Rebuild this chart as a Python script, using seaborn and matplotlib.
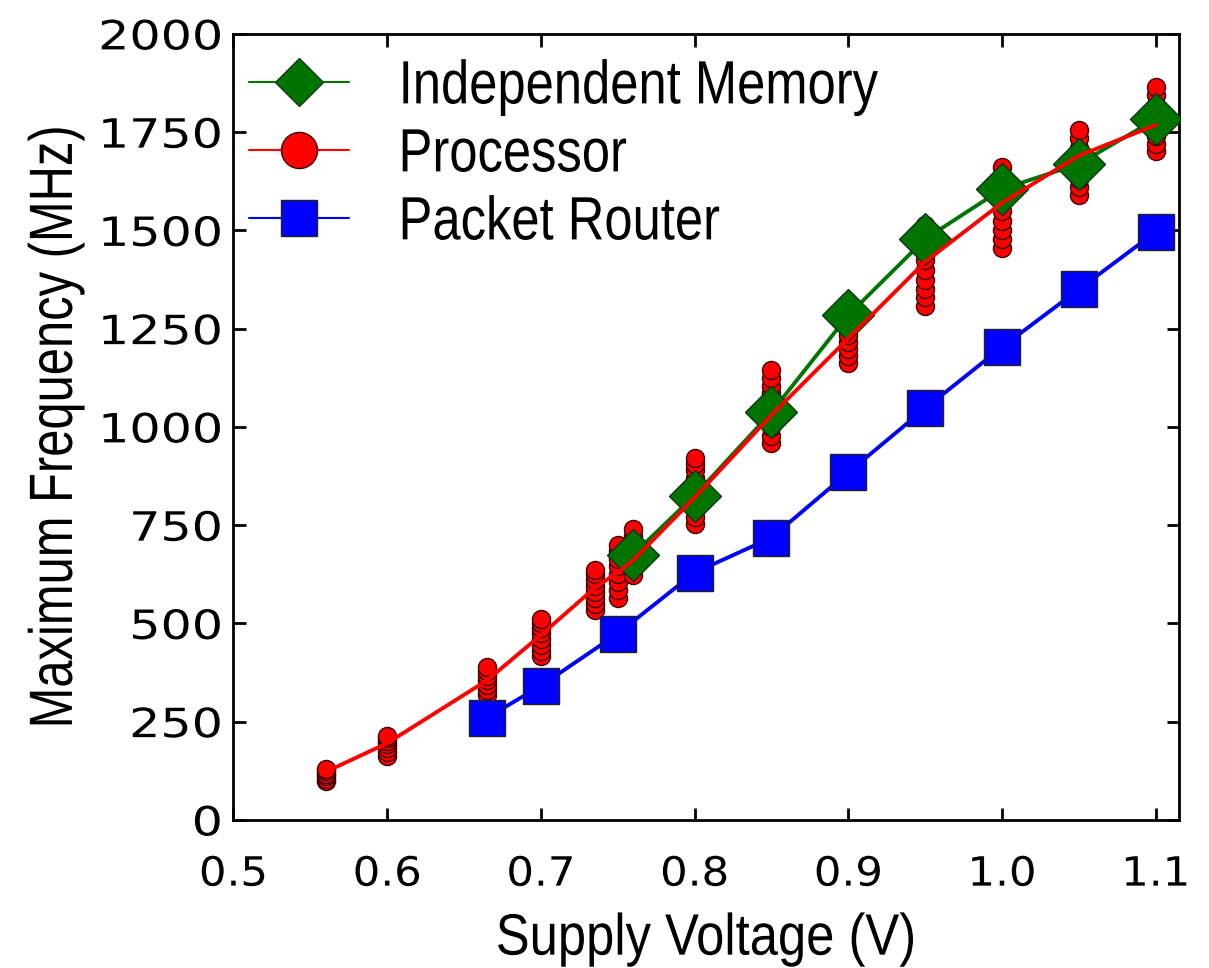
# Max frequency vs supply voltage
import pandas as pd
import numpy as np
import matplotlib.pyplot as plt
import seaborn as sns
from matplotlib.lines import Line2D
from matplotlib.patheffects import AbstractPathEffect
from matplotlib.transforms import Affine2D

# Independent memory (green diamonds)
mem_v = [0.76, 0.8, 0.85, 0.9, 0.95, 1.0, 1.05, 1.1]
mem_f = [675, 825, 1037, 1284, 1478, 1605, 1669, 1783]

# Packet router (blue squares)
router_v = [0.665, 0.7, 0.75, 0.8, 0.85, 0.9, 0.95, 1.0, 1.05, 1.1]
router_f = [260, 341, 474, 629, 718, 884, 1047, 1203, 1350, 1496]

# Processor fit line (red)
proc_v = [0.56, 0.6, 0.665, 0.7, 0.735, 0.75, 0.76, 0.8, 0.85, 0.9, 0.95, 1.0, 1.05, 1.1]
proc_f = [122, 195, 355, 470, 590, 630, 660, 820, 1030, 1225, 1420, 1570, 1690, 1768]

# Processor measured chips (red circles), one list per voltage
proc_chips = {
    0.56: [98, 105, 112, 118, 124, 130],
    0.6: [162, 172, 182, 192, 200, 208, 214],
    0.665: [318, 330, 342, 355, 366, 378, 390],
    0.7: [416, 430, 445, 460, 475, 488, 500, 510],
    0.735: [535, 550, 565, 580, 595, 610, 625, 637],
    0.75: [565, 585, 605, 625, 645, 665, 685, 700],
    0.76: [624, 640, 655, 670, 690, 705, 722, 739],
    0.8: [752, 770, 790, 810, 830, 850, 870, 890, 905, 922],
    0.85: [958, 978, 1000, 1020, 1040, 1062, 1085, 1105, 1125, 1146],
    0.9: [1162, 1180, 1198, 1215, 1235, 1255, 1275, 1295, 1317],
    0.95: [1307, 1330, 1352, 1375, 1400, 1425, 1450, 1475, 1495, 1513],
    1.0: [1455, 1478, 1500, 1525, 1550, 1575, 1600, 1622, 1642, 1661],
    1.05: [1590, 1610, 1630, 1650, 1670, 1690, 1710, 1735, 1755],
    1.1: [1702, 1720, 1740, 1760, 1780, 1800, 1820, 1845, 1865],
}

x_ticks = [0.5, 0.6, 0.7, 0.8, 0.9, 1.0, 1.1]
y_ticks = [0, 250, 500, 750, 1000, 1250, 1500, 1750, 2000]


class Stretch(AbstractPathEffect):
    '''squeeze / widen text glyphs horizontally (text stays a Text artist)'''
    def __init__(self, sx, anchor='center'):
        super().__init__()
        self.sx = sx
        self.anchor = anchor

    def draw_path(self, renderer, gc, tpath, affine, rgbFace=None):
        ext = tpath.get_extents()
        cx = {'left': ext.x0, 'center': (ext.x0 + ext.x1) / 2, 'right': ext.x1}[self.anchor]
        aff = Affine2D().translate(-cx, 0).scale(self.sx, 1).translate(cx, 0) + affine
        renderer.draw_path(gc, tpath, aff, rgbFace)


sns.set_style('ticks')
plt.rcParams.update({'text.color': 'black', 'axes.labelcolor': 'black',
                     'xtick.color': 'black', 'ytick.color': 'black',
                     'axes.edgecolor': 'black'})
label_font = ['Liberation Sans', 'DejaVu Sans']

chips = pd.DataFrame([(v, f) for v, fs in proc_chips.items() for f in fs],
                     columns=['voltage', 'freq'])
mem = pd.DataFrame({'voltage': mem_v, 'freq': mem_f})
router = pd.DataFrame({'voltage': router_v, 'freq': router_f})
proc = pd.DataFrame({'voltage': proc_v, 'freq': proc_f})

fig = plt.figure(figsize=(12.09, 9.68), dpi=100)
ax = fig.add_axes([0.193, 0.153, 0.782, 0.812])

sns.scatterplot(data=chips, x='voltage', y='freq', ax=ax, marker='o', s=13**2,
                color='#ff0000', edgecolor='#3a0000', linewidth=1, zorder=2, legend=False)
sns.lineplot(data=router, x='voltage', y='freq', ax=ax, color='#0000ff', lw=2.8,
             marker='s', markersize=26, markerfacecolor='#0000ff',
             markeredgecolor='#222222', markeredgewidth=1, zorder=3, legend=False)
sns.lineplot(data=mem, x='voltage', y='freq', ax=ax, color='#007400', lw=2.8,
             marker='D', markersize=26, markerfacecolor='#007400',
             markeredgecolor='#113311', markeredgewidth=1, zorder=4, legend=False)
sns.lineplot(data=proc, x='voltage', y='freq', ax=ax, color='#ff0000', lw=2.8,
             zorder=5, legend=False)

ax.set_xlim(0.5, 1.115)
ax.set_ylim(0, 2000)
ax.set_xticks(x_ticks)
ax.set_xticklabels([f'{t:.1f}' for t in x_ticks])
ax.set_yticks(y_ticks)
ax.set_yticklabels([str(t) for t in y_ticks])
ax.tick_params(direction='in', top=True, right=True, length=9, width=2,
               labelsize=29, colors='black')
ax.tick_params(axis='x', pad=25)
ax.tick_params(axis='y', pad=8)
for sp in ax.spines.values():
    sp.set_linewidth(2)
    sp.set_color('black')

ax.set_xlabel('Supply Voltage (V)', fontsize=42, family=label_font)
ax.set_ylabel('Maximum Frequency (MHz)', fontsize=44, family=label_font)
ax.xaxis.set_label_coords(0.5, -0.118)
ax.yaxis.set_label_coords(-0.157, 0.5)

handles = [
    Line2D([], [], color='#007400', lw=1.5, marker='D', markersize=24,
           markerfacecolor='#007400', markeredgecolor='#113311'),
    Line2D([], [], color='#ff0000', lw=1.5, marker='o', markersize=26,
           markerfacecolor='#ff0000', markeredgecolor='#3a0000'),
    Line2D([], [], color='#0000ff', lw=1.5, marker='s', markersize=26,
           markerfacecolor='#0000ff', markeredgecolor='#222222'),
]
leg = ax.legend(handles, ['Independent Memory', 'Processor', 'Packet Router'],
                loc='upper left', bbox_to_anchor=(0.0, 0.987), frameon=False,
                prop={'family': label_font, 'size': 44}, handlelength=1.64,
                handletextpad=0.8, labelspacing=0.18, borderpad=0.0,
                borderaxespad=0.25)

fig.canvas.draw()
for t in ax.get_yticklabels():
    t.set_path_effects([Stretch(1.22, 'right')])
for t in ax.get_xticklabels():
    t.set_path_effects([Stretch(1.08, 'center')])
ax.xaxis.label.set_path_effects([Stretch(0.87, 'center')])
ax.yaxis.label.set_path_effects([Stretch(0.80, 'center')])
for t in leg.get_texts():
    t.set_path_effects([Stretch(0.83, 'left')])

plt.savefig('out.png', dpi=100, facecolor='white')
